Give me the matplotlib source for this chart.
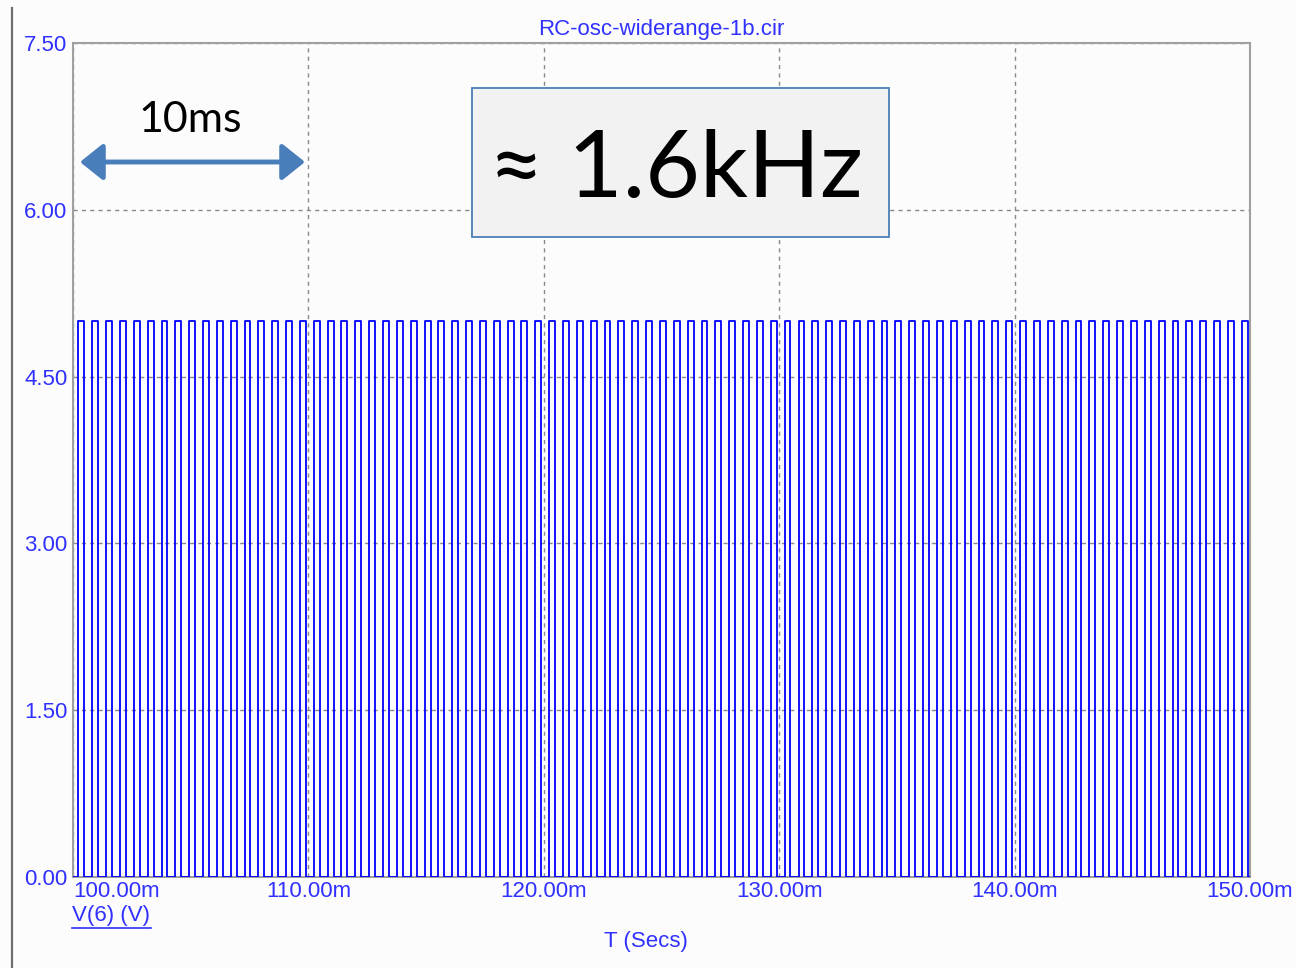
import numpy as np
from matplotlib import pyplot as plt
from matplotlib.patches import Rectangle, FancyArrowPatch
from matplotlib.lines import Line2D

# rising edges of V(6), in ms
rise_ms = [100.23, 100.81, 101.40, 101.99, 102.58, 103.17, 103.76, 104.34,
           104.93, 105.52, 106.11, 106.70, 107.29, 107.87, 108.46, 109.05,
           109.64, 110.23, 110.82, 111.40, 111.99, 112.58, 113.17, 113.76,
           114.35, 114.94, 115.52, 116.11, 116.70, 117.29, 117.88, 118.47,
           119.05, 119.64, 120.23, 120.82, 121.41, 122.00, 122.58, 123.17,
           123.76, 124.35, 124.94, 125.53, 126.11, 126.70, 127.29, 127.88,
           128.47, 129.06, 129.65, 130.23, 130.82, 131.41, 132.00, 132.59,
           133.18, 133.76, 134.35, 134.94, 135.53, 136.12, 136.71, 137.29,
           137.88, 138.47, 139.06, 139.65, 140.24, 140.82, 141.41, 142.00,
           142.59, 143.18, 143.77, 144.36, 144.94, 145.53, 146.12, 146.71,
           147.30, 147.89, 148.47, 149.06, 149.65]
high_ms = 0.25
v_high = 5.0
v_low = 0.0
t_start, t_end = 100.0, 150.0

xticks = [100, 110, 120, 130, 140, 150]
xticklabels = ["100.00m", "110.00m", "120.00m", "130.00m", "140.00m", "150.00m"]
yticks = [0.0, 1.5, 3.0, 4.5, 6.0, 7.5]
yticklabels = ["0.00", "1.50", "3.00", "4.50", "6.00", "7.50"]

W, H = 1296, 968
bg = "#fbfcfb"
blue_txt = "#3030ff"
small = 16

def fx(px):
    return px / W

def fy(py):
    return 1 - py / H

# build the square wave from the edges
t = [t_start]
v = [v_low]
for r in rise_ms:
    f = min(r + high_ms, t_end)
    t += [r, r, f, f]
    v += [v_low, v_high, v_high, v_low]
t.append(t_end)
v.append(v_low)

fig = plt.figure(figsize=(W / 100, H / 100), dpi=100, facecolor=bg)
ax = fig.add_axes([fx(73), fy(877), fx(1250) - fx(73), fy(43) - fy(877)])
ax.set_facecolor(bg)

ax.plot(t, v, color="#0000ff", lw=1.3, zorder=3)

ax.set_xlim(t_start, t_end)
ax.set_ylim(0, 7.5)
ax.set_xticks(xticks)
ax.set_xticklabels(xticklabels)
ax.set_yticks(yticks)
ax.set_yticklabels(yticklabels)
ax.tick_params(length=0, labelsize=small, labelcolor=blue_txt)
ax.tick_params(axis="x", pad=3)
ax.tick_params(axis="y", pad=4)
for lab in ax.get_xticklabels() + ax.get_yticklabels():
    lab.set_fontfamily("Liberation Sans")
ax.get_xticklabels()[0].set_horizontalalignment("left")

ax.grid(True, color="#8a8a8a", lw=1.0, linestyle=(0, (3, 3)), zorder=1)
for s in ax.spines.values():
    s.set_color("#a0a0a0")
    s.set_linewidth(1.5)

# window border on the left
fig.add_artist(Line2D([fx(12), fx(12)], [fy(8), fy(968)], color="#6e6e6e", lw=1.6))

fig.text(fx(661), fy(30), "RC-osc-widerange-1b.cir", ha="center", va="center",
         fontsize=small, color=blue_txt, family="Liberation Sans")
fig.text(fx(72), fy(916), "V(6) (V)", ha="left", va="center",
         fontsize=small, color=blue_txt, family="Liberation Sans")
fig.add_artist(Line2D([fx(72), fx(151)], [fy(928), fy(928)], color=blue_txt, lw=1.2))
fig.text(fx(646), fy(941), "T (Secs)", ha="center", va="center",
         fontsize=small, color=blue_txt, family="Liberation Sans")

# 10ms marker
arrow = FancyArrowPatch((fx(80), fy(162)), (fx(305), fy(162)), transform=fig.transFigure,
                        arrowstyle="<|-|>,head_length=1.0,head_width=0.8",
                        mutation_scale=14, lw=3.5, color="#4a7ebb",
                        shrinkA=0, shrinkB=0)
fig.add_artist(arrow)
fig.text(fx(190), fy(132), "10ms", ha="center", va="baseline",
         fontsize=31, color="black", family=["Lato", "DejaVu Sans"])

# frequency box
box = Rectangle((fx(472), fy(237)), fx(889) - fx(472), fy(88) - fy(237),
                transform=fig.transFigure, facecolor="#f2f2f2", edgecolor="#4a7ebb",
                lw=1.3, zorder=5)
fig.add_artist(box)
fig.text(fx(676), fy(197), "\u2248 1.6kHz", ha="center", va="baseline",
         fontsize=68, color="black", family=["Lato", "DejaVu Sans"], zorder=6)

fig.savefig("out.png", dpi=100, facecolor=bg)
